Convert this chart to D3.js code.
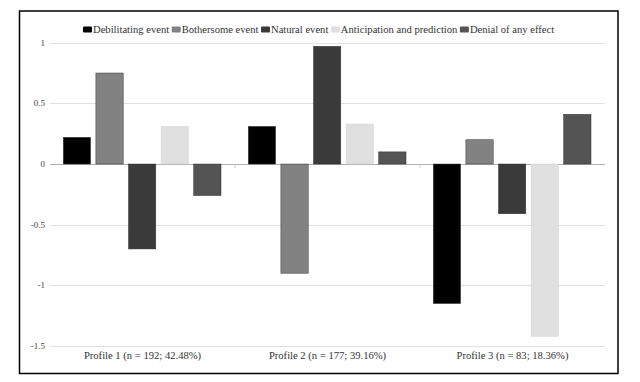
<!DOCTYPE html>
<html><head><meta charset="utf-8">
<script src="https://cdn.jsdelivr.net/npm/d3@7"></script>
<style>body{margin:0;background:#fff}svg{display:block}svg text{font-family:"Liberation Serif","Times New Roman","DejaVu Serif",serif}</style>
</head><body>
<svg id="c" width="640" height="382"></svg>
<script>
const categories = ["Profile 1 (n = 192; 42.48%)", "Profile 2 (n = 177; 39.16%)", "Profile 3 (n = 83; 18.36%)"];
const seriesNames = ["Debilitating event", "Bothersome event", "Natural event", "Anticipation and prediction", "Denial of any effect"];
const debilitating = [0.22, 0.31, -1.15];
const bothersome = [0.75, -0.90, 0.20];
const natural = [-0.70, 0.97, -0.41];
const anticipation = [0.31, 0.33, -1.42];
const denial = [-0.26, 0.10, 0.41];
const yTicks = [1, 0.5, 0, -0.5, -1, -1.5];
const colors = ["#000000", "#828282", "#3a3a3a", "#e0e0e0", "#545454"];

const seriesValues = [debilitating, bothersome, natural, anticipation, denial];
const svg = d3.select("#c");

svg.append("rect").attr("x", 19.5).attr("y", 11).attr("width", 598.5).attr("height", 362.5)
  .attr("fill", "#fff").attr("stroke", "#000").attr("stroke-width", 1.5);

const left = 50, right = 605;
const y = d3.scaleLinear().domain([-1.5, 1]).range([346, 42.7]);
const x0 = d3.scaleBand().domain(categories).range([left, right]).paddingInner(0).paddingOuter(0);
const x1 = d3.scaleBand().domain(seriesNames).range([13.3, x0.bandwidth() - 14]).paddingInner(0.163).paddingOuter(0);

// gridlines
svg.append("g").selectAll("line").data(yTicks).join("line")
  .attr("x1", left).attr("x2", right)
  .attr("y1", d => Math.round(y(d)) + 0.5).attr("y2", d => Math.round(y(d)) + 0.5)
  .attr("stroke", d => d === 0 ? "#b0b0b0" : "#e0e0e0").attr("stroke-width", 1);

// y labels
svg.append("g").selectAll("text").data(yTicks).join("text")
  .attr("x", 45).attr("y", d => y(d) + 3)
  .attr("text-anchor", "end").attr("font-size", 9).attr("fill", "#444")
  .text(d => String(d));

// bars
const groups = svg.append("g").selectAll("g").data(categories).join("g")
  .attr("transform", d => `translate(${x0(d)},0)`);
groups.selectAll("rect").data((c, ci) => seriesNames.map((s, si) => ({s, si, v: seriesValues[si][ci]})))
  .join("rect")
  .attr("x", d => x1(d.s)).attr("width", x1.bandwidth())
  .attr("y", d => y(Math.max(0, d.v))).attr("height", d => Math.abs(y(d.v) - y(0)))
  .attr("fill", (d) => colors[d.si])
  .attr("stroke", d => d.si === 3 ? "#d4d4d4" : "#333").attr("stroke-width", 0.5);

// tick marks on zero line at category boundaries
svg.append("g").selectAll("line").data(categories.slice(1)).join("line")
  .attr("x1", d => x0(d)).attr("x2", d => x0(d))
  .attr("y1", y(0)).attr("y2", y(0) + 4).attr("stroke", "#ccc");

// category labels
svg.append("g").selectAll("text").data(categories).join("text")
  .attr("x", d => x0(d) + x0.bandwidth() / 2).attr("y", 359)
  .attr("text-anchor", "middle").attr("font-size", 10.6).attr("fill", "#333")
  .text(d => d);

// legend
const lg = svg.append("g");
let lx = 83;
seriesNames.forEach((s, i) => {
  lg.append("rect").attr("x", lx).attr("y", 26.5).attr("width", 9).attr("height", 6).attr("rx", 1)
    .attr("fill", colors[i]);
  const t = lg.append("text").attr("x", lx + 10).attr("y", 33)
    .attr("font-size", 10.6).attr("fill", "#333").text(s);
  lx += 10 + t.node().getComputedTextLength() + 2.5;
});
</script>
</body></html>
